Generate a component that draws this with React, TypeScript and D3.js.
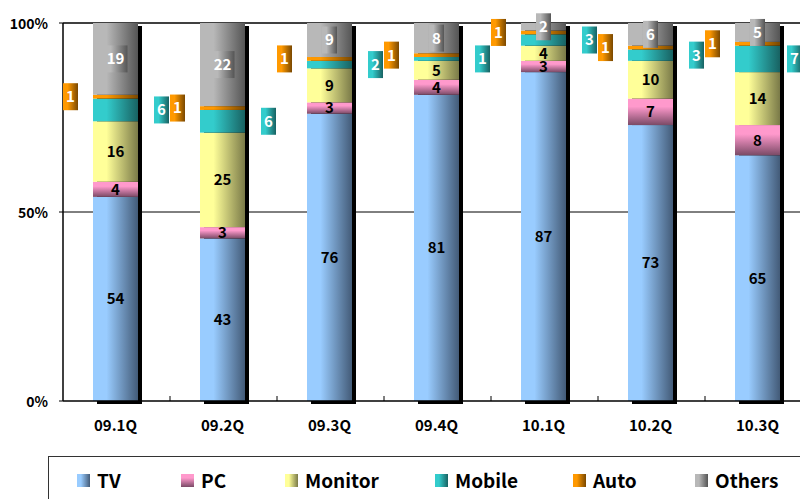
import React from "react";
import * as d3 from "d3";

// Share of shipments by application, per quarter (%)
const categories = ["09.1Q", "09.2Q", "09.3Q", "09.4Q", "10.1Q", "10.2Q", "10.3Q"];
const seriesNames = ["TV", "PC", "Monitor", "Mobile", "Auto", "Others"];
const tv = [54, 43, 76, 81, 87, 73, 65];
const pc = [4, 3, 3, 4, 3, 7, 8];
const monitor = [16, 25, 9, 5, 4, 10, 14];
const mobile = [6, 6, 2, 1, 3, 3, 7];
const auto = [1, 1, 1, 1, 1, 1, 1];
const others = [19, 22, 9, 8, 2, 6, 5];
const yTicks = [0, 50, 100];
const yTickLabels = ["0%", "50%", "100%"];

const W = 800;
const H = 499;
const M = { left: 63, top: 23, bottom: 401 };
const STEP = 107;
const BAR_W = 45;
const FONT = "'Noto Sans CJK JP', 'Noto Sans', sans-serif";

const gradients: Record<string, { from: string; to: string; vertical?: boolean }> = {
  TV: { from: "#99ccff", to: "#435b78" },
  PC: { from: "#ff99cc", to: "#7a4a66", vertical: true },
  Monitor: { from: "#ffff99", to: "#7a7a48" },
  Mobile: { from: "#33cccc", to: "#186262" },
  Auto: { from: "#ff9900", to: "#7a4800" },
  Others: { from: "#b8b8b8", to: "#555555" },
};

export default function App() {
  const rows = categories.map((c, i) => ({
    cat: c,
    TV: tv[i],
    PC: pc[i],
    Monitor: monitor[i],
    Mobile: mobile[i],
    Auto: auto[i],
    Others: others[i],
  }));
  const stacked = d3.stack<any>().keys(seriesNames)(rows);

  const x = d3
    .scaleBand<string>()
    .domain(categories)
    .range([M.left, M.left + STEP * categories.length])
    .padding(0);
  const y = d3.scaleLinear().domain([0, 100]).range([M.bottom, M.top]);
  const right = W;

  const barX = (c: string) => (x(c) as number) + x.bandwidth() / 2 - BAR_W / 2 - 1;

  const boxW = (v: number) => (String(v).length > 1 ? 24 : 15);
  const boxH = 27;

  const legendX = [77, 181, 285, 435, 573, 695];

  return (
    <svg
      width={W}
      height={H}
      style={{ position: "absolute", left: 0, top: 0, background: "#fff" }}
      fontFamily={FONT}
      fontWeight="bold"
    >
      <defs>
        {seriesNames.map((s) => {
          const g = gradients[s];
          return (
            <linearGradient
              key={s}
              id={`g-${s}`}
              x1="0"
              y1="0"
              x2={g.vertical ? "0" : "1"}
              y2={g.vertical ? "1" : "0"}
            >
              <stop offset="0" stopColor={g.from} />
              <stop offset="0.3" stopColor={g.from} />
              <stop offset="1" stopColor={g.to} />
            </linearGradient>
          );
        })}
      </defs>

      {/* gridlines */}
      {yTicks.filter((t) => t > 0).map((t) => (
        <line key={t} x1={M.left} x2={right} y1={y(t)} y2={y(t)} stroke="#000" strokeWidth={t === 100 ? 1.5 : 1} />
      ))}

      {/* bar shadows */}
      {categories.map((c) => (
        <rect key={c} x={barX(c) + 4} y={M.top + 3} width={BAR_W} height={M.bottom - M.top} fill="#000" />
      ))}

      {/* stacked segments */}
      {stacked.map((layer) =>
        layer.map((d, i) => (
          <rect
            key={`${layer.key}-${i}`}
            x={barX(categories[i])}
            y={y(d[1])}
            width={BAR_W}
            height={y(d[0]) - y(d[1])}
            fill={`url(#g-${layer.key})`}
          />
        ))
      )}

      {/* axes */}
      <line x1={M.left} x2={M.left} y1={M.top} y2={M.bottom} stroke="#000" strokeWidth={1.5} />
      <line x1={M.left} x2={right} y1={M.bottom} y2={M.bottom} stroke="#000" strokeWidth={1.5} />
      {yTicks.map((t, i) => (
        <g key={t}>
          <line x1={M.left - 4} x2={M.left} y1={y(t)} y2={y(t)} stroke="#000" />
          <text x={48} y={y(t) + 1} dy="0.35em" textAnchor="end" fontSize={14}>
            {yTickLabels[i]}
          </text>
        </g>
      ))}
      {categories.slice(1).map((c) => (
        <line key={c} x1={x(c)} x2={x(c)} y1={M.bottom} y2={M.bottom - 5} stroke="#000" />
      ))}
      {categories.map((c) => (
        <text key={c} x={barX(c) + BAR_W / 2} y={426} dy="0.35em" textAnchor="middle" fontSize={15}>
          {c}
        </text>
      ))}

      {/* value labels inside bars */}
      {stacked
        .filter((l) => ["TV", "PC", "Monitor"].includes(l.key))
        .map((layer) =>
          layer.map((d, i) => (
            <text
              key={`${layer.key}-t-${i}`}
              x={barX(categories[i]) + BAR_W / 2}
              y={(y(d[0]) + y(d[1])) / 2}
              dy="0.36em"
              textAnchor="middle"
              fontSize={15}
              fill="#000"
            >
              {d[1] - d[0]}
            </text>
          ))
        )}

      {/* boxed labels: Others centred, Mobile right of bar, Auto left of bar */}
      {stacked
        .filter((l) => ["Others", "Mobile", "Auto"].includes(l.key))
        .map((layer) =>
          layer.map((d, i) => {
            const v = d[1] - d[0];
            const w = boxW(v);
            const cy = (y(d[0]) + y(d[1])) / 2;
            const bx = barX(categories[i]);
            let left: number;
            if (layer.key === "Others") left = bx + BAR_W / 2 - w / 2;
            else if (layer.key === "Mobile") left = Math.min(bx + BAR_W + 16, W - 13);
            else left = bx - 15 - w;
            return (
              <g key={`${layer.key}-b-${i}`}>
                <rect x={left} y={cy - boxH / 2} width={w} height={boxH} fill={`url(#g-${layer.key})`} />
                <text x={left + w / 2} y={cy} dy="0.36em" textAnchor="middle" fontSize={15} fill="#fff">
                  {v}
                </text>
              </g>
            );
          })
        )}

      {/* legend */}
      <rect x={48.5} y={456.5} width={800} height={80} fill="none" stroke="#333" />
      {seriesNames.map((s, i) => (
        <g key={s}>
          <rect x={legendX[i]} y={474} width={13} height={13} fill={`url(#g-${s})`} />
          <text x={legendX[i] + 20} y={481} dy="0.36em" fontSize={19}>
            {s}
          </text>
        </g>
      ))}
    </svg>
  );
}
